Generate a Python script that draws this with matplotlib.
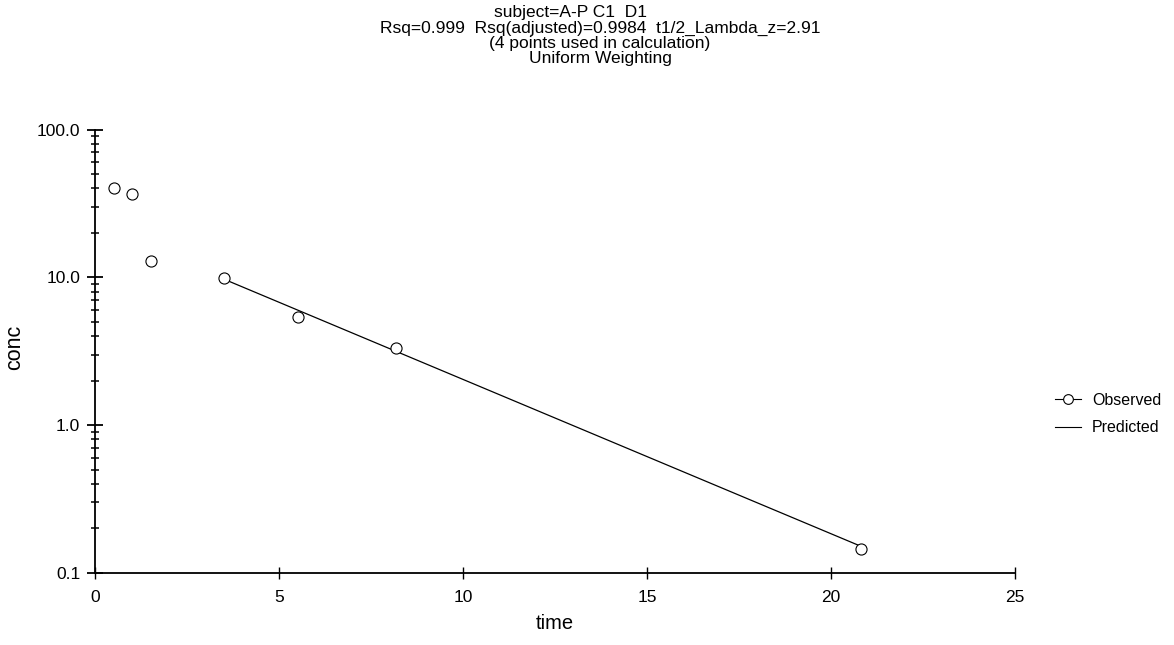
import matplotlib
matplotlib.use("Agg")
import matplotlib.pyplot as plt
from matplotlib.ticker import FixedLocator, LogLocator, NullFormatter
from matplotlib.lines import Line2D

plt.rcParams['font.family'] = ['Liberation Sans', 'DejaVu Sans']

obs_time = [0.5, 1.0, 1.5, 3.5, 5.5, 8.17, 20.8]
obs_conc = [40.5, 36.4, 12.8, 9.85, 5.37, 3.31, 0.145]
pred_time = [3.5, 20.8]
pred_conc = [9.7, 0.152]

title_lines = ["subject=A-P C1  D1",
               "Rsq=0.999  Rsq(adjusted)=0.9984  t1/2_Lambda_z=2.91",
               "(4 points used in calculation)",
               "Uniform Weighting"]
x_ticks = [0, 5, 10, 15, 20, 25]
y_ticks = [0.1, 1.0, 10.0, 100.0]
y_tick_labels = ["0.1", "1.0", "10.0", "100.0"]

W, H = 1174, 645
fig = plt.figure(figsize=(W / 100, H / 100), dpi=100)
ax = fig.add_axes([95.5 / W, 1 - 573 / H, (1015 - 95.5) / W, (573 - 129.5) / H])

ax.plot(pred_time, pred_conc, color='black', lw=0.9, zorder=2)
ax.plot(obs_time, obs_conc, linestyle='none', marker='o', markersize=8,
        markerfacecolor='white', markeredgecolor='black', markeredgewidth=0.8, zorder=3)

ax.set_yscale('log')
ax.set_xlim(0, 25)
ax.set_ylim(0.1, 100)
ax.xaxis.set_major_locator(FixedLocator(x_ticks))
ax.set_xticklabels([str(t) for t in x_ticks])
ax.yaxis.set_major_locator(FixedLocator(y_ticks))
ax.set_yticklabels(y_tick_labels)
ax.yaxis.set_minor_locator(LogLocator(base=10, subs=range(2, 10)))
ax.yaxis.set_minor_formatter(NullFormatter())

for s in ['top', 'right']:
    ax.spines[s].set_visible(False)
for s in ['left', 'bottom']:
    ax.spines[s].set_linewidth(1.3)

ax.tick_params(axis='y', which='major', direction='inout', length=12, width=1.3,
               labelsize=12.5, pad=5)
ax.tick_params(axis='y', which='minor', direction='inout', length=6, width=1.1)
ax.tick_params(axis='x', which='major', direction='inout', length=9, width=1.0,
               labelsize=12.5, pad=8)

ax.set_xlabel("time", fontsize=14.5, labelpad=6)
ax.set_ylabel("conc", fontsize=15.5)
ax.yaxis.set_label_coords((25 - 95.5) / (1015 - 95.5), (573 - 347) / (573 - 129.5))

centers = [570, 600, 600, 600]
for i, line in enumerate(title_lines):
    fig.text(centers[i] / W, 1 - (17 + 15.4 * i) / H, line, ha='center',
             va='baseline', fontsize=12.5)

handles = [Line2D([0], [0], color='black', lw=0.8, marker='o', markersize=7,
                  markerfacecolor='white', markeredgecolor='black', markeredgewidth=0.8),
           Line2D([0], [0], color='black', lw=0.8)]
fig.legend(handles, ["Observed", "Predicted"], loc='center left',
           bbox_to_anchor=(1041 / W, 1 - 414 / H), frameon=False,
           fontsize=11.5, handlelength=1.6, handletextpad=0.7, labelspacing=0.8)

fig.savefig("out.png", dpi=100)
